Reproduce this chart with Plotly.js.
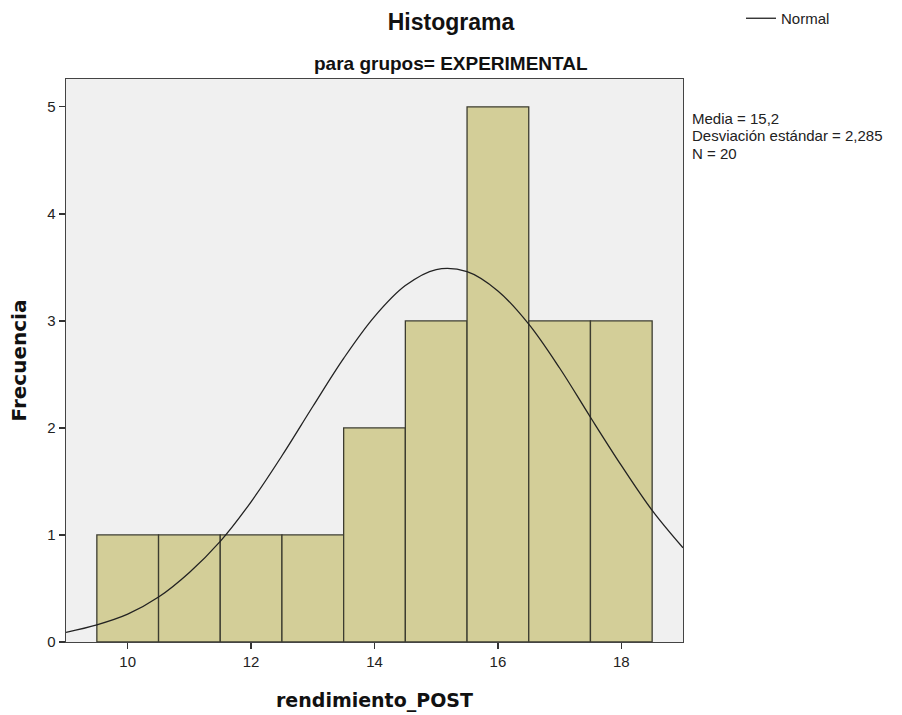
<!DOCTYPE html>
<html>
<head>
<meta charset="utf-8">
<script src="https://cdn.plot.ly/plotly-3.0.1.min.js"></script>
<style>html,body{margin:0;padding:0;background:#fff;} #chart{width:902px;height:715px;}</style>
</head>
<body>
<div id="chart"></div>
<script>
// Histogram bins (centers) and frequencies
const binCenters = [10, 11, 12, 13, 14, 15, 16, 17, 18];
const frequencies = [1, 1, 1, 1, 2, 3, 5, 3, 3];

// Normal curve
const curveX = [9, 9.5, 10, 10.5, 11, 11.5, 12, 12.5, 13, 13.5, 14, 14.5, 15, 15.5, 16, 16.5, 17, 17.5, 18, 18.5, 19];
const curveY = [0.09, 0.16, 0.26, 0.42, 0.65, 0.94, 1.31, 1.74, 2.20, 2.65, 3.04, 3.33, 3.48, 3.46, 3.28, 2.97, 2.56, 2.10, 1.65, 1.23, 0.88];

const xTicks = [10, 12, 14, 16, 18];
const yTicks = [0, 1, 2, 3, 4, 5];

const statsLines = ["Media = 15,2", "Desviación estándar = 2,285", "N = 20"];

const traces = [
  {
    type: 'bar',
    x: binCenters,
    y: frequencies,
    width: 1,
    marker: {color: '#d3ce98', line: {color: '#3c3c30', width: 1.3}},
    showlegend: false,
    hoverinfo: 'x+y'
  },
  {
    type: 'scatter',
    mode: 'lines',
    x: curveX,
    y: curveY,
    name: 'Normal',
    line: {color: '#222222', width: 1.3, shape: 'spline', smoothing: 1},
    cliponaxis: true
  }
];

const plotTop = 79, plotBottom = 642;

const annotations = [
  {
    text: '<b>para grupos= EXPERIMENTAL</b>',
    xref: 'paper', yref: 'paper',
    x: (451 - 66) / 617, y: 1, yshift: 16,
    xanchor: 'center', yanchor: 'middle', showarrow: false,
    font: {family: 'Liberation Sans, Arial, sans-serif', size: 19, color: '#111'}
  }
];
const statsCenters = [118, 135.5, 153];
statsLines.forEach((t, i) => {
  annotations.push({
    text: t,
    xref: 'paper', yref: 'paper',
    x: 1, xshift: 8, y: 1, yshift: -(statsCenters[i] - plotTop),
    xanchor: 'left', yanchor: 'middle', align: 'left', showarrow: false,
    borderpad: 0,
    font: {family: 'Liberation Sans, Arial, sans-serif', size: 15, color: '#222'}
  });
});

const layout = {
  width: 902,
  height: 715,
  margin: {l: 66, r: 219, t: plotTop, b: 715 - plotBottom},
  paper_bgcolor: '#ffffff',
  plot_bgcolor: '#f0f0f0',
  font: {family: 'Liberation Sans, Arial, sans-serif', size: 15, color: '#222'},
  title: {
    text: '<b>Histograma</b>',
    x: 0.5, xref: 'container', xanchor: 'center',
    y: 1 - 22 / 715, yref: 'container', yanchor: 'middle',
    font: {family: 'Liberation Sans, Arial, sans-serif', size: 23, color: '#111'}
  },
  bargap: 0,
  xaxis: {
    range: [9, 19],
    tickvals: xTicks,
    ticktext: xTicks.map(String),
    ticks: 'outside', ticklen: 6, tickwidth: 1.3, tickcolor: '#333',
    showgrid: false, zeroline: false,
    showline: true, linecolor: '#444', linewidth: 1.3, mirror: true,
    tickfont: {family: 'Liberation Sans, Arial, sans-serif', size: 15, color: '#222'},
    title: {text: '<b>rendimiento_POST</b>', standoff: 24,
      font: {family: 'DejaVu Sans, Verdana, sans-serif', size: 19, color: '#111'}}
  },
  yaxis: {
    range: [0, 5.26],
    tickvals: yTicks,
    ticktext: yTicks.map(String),
    ticks: 'outside', ticklen: 6, tickwidth: 1.3, tickcolor: '#333',
    showgrid: false, zeroline: false,
    showline: true, linecolor: '#444', linewidth: 1.3, mirror: true,
    tickfont: {family: 'Liberation Sans, Arial, sans-serif', size: 15, color: '#222'},
    title: {text: '<b>Frecuencia</b>', standoff: 15,
      font: {family: 'DejaVu Sans, Verdana, sans-serif', size: 20, color: '#111'}}
  },
  showlegend: true,
  legend: {
    x: 741 / 902, xref: 'container', xanchor: 'left',
    y: (715 - 2) / 715, yref: 'container', yanchor: 'top',
    bgcolor: 'rgba(0,0,0,0)',
    font: {family: 'Liberation Sans, Arial, sans-serif', size: 15, color: '#222'},
    itemwidth: 30
  },
  annotations: annotations
};

Plotly.newPlot('chart', traces, layout, {displayModeBar: false, staticPlot: true});
</script>
</body>
</html>
